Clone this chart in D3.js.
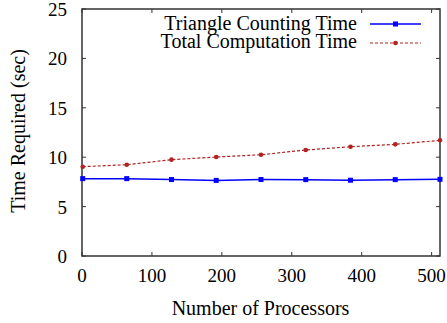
<!DOCTYPE html>
<html><head><meta charset="utf-8">
<script src="https://cdn.jsdelivr.net/npm/d3@7"></script>
</head><body style="margin:0;background:#fff">
<script>
const processors = [1, 64, 128, 192, 256, 320, 384, 448, 512];
const triangleTime = [7.83, 7.83, 7.74, 7.65, 7.74, 7.73, 7.67, 7.73, 7.76];
const totalTime = [9.04, 9.24, 9.75, 10.02, 10.25, 10.73, 11.06, 11.30, 11.71];
const xTicks = [0, 100, 200, 300, 400, 500];
const yTicks = [0, 5, 10, 15, 20, 25];
const seriesNames = ["Triangle Counting Time", "Total Computation Time"];

const W = 447, H = 323;
const m = {l: 82, r: 7, t: 9, b: 67};
const svg = d3.select("body").append("svg").attr("width", W).attr("height", H).style("display", "block");
const txt = (sel, fs) => sel.append("text").style("font-family", '"Liberation Serif", "Times New Roman", serif').attr("font-size", fs).attr("fill", "#000");
const x = d3.scaleLinear().domain([0, 512]).range([m.l, W - m.r]);
const y = d3.scaleLinear().domain([0, 25]).range([H - m.b, m.t]);
const axCol = "#333";

const g = svg.append("g");
const tl = 4;
xTicks.forEach(t => {
  g.append("line").attr("x1", x(t)).attr("x2", x(t)).attr("y1", y(0)).attr("y2", y(0) - tl).attr("stroke", axCol);
  g.append("line").attr("x1", x(t)).attr("x2", x(t)).attr("y1", y(25)).attr("y2", y(25) + tl).attr("stroke", axCol);
  txt(g, 19).attr("x", x(t)).attr("y", y(0) + 26).attr("text-anchor", "middle").text(t);
});
yTicks.forEach(t => {
  g.append("line").attr("x1", x(0)).attr("x2", x(0) + tl).attr("y1", y(t)).attr("y2", y(t)).attr("stroke", axCol);
  g.append("line").attr("x1", x(512)).attr("x2", x(512) - tl).attr("y1", y(t)).attr("y2", y(t)).attr("stroke", axCol);
  txt(g, 19).attr("x", 67).attr("y", y(t) + 7).attr("text-anchor", "end").text(t);
});
g.append("rect").attr("x", x(0)).attr("y", y(25)).attr("width", x(512) - x(0)).attr("height", y(0) - y(25))
  .attr("fill", "none").attr("stroke", axCol).attr("stroke-width", 1.5);

txt(svg, 20).attr("x", 260.5).attr("y", 315).attr("text-anchor", "middle").text("Number of Processors");
txt(svg, 20).attr("transform", `translate(25,131) rotate(-90)`).attr("text-anchor", "middle").text("Time Required (sec)");

const line = d3.line().x(d => x(d[0])).y(d => y(d[1]));
const blue = "#0000ff", red = "#b22222";
const d1 = processors.map((p, i) => [p, triangleTime[i]]);
const d2 = processors.map((p, i) => [p, totalTime[i]]);

svg.append("path").datum(d2).attr("d", line).attr("fill", "none").attr("stroke", red).attr("stroke-width", 1.2).attr("stroke-dasharray", "3,2");
svg.selectAll(".c").data(d2).enter().append("circle").attr("cx", d => x(d[0])).attr("cy", d => y(d[1])).attr("r", 2.3).attr("fill", red);
svg.append("path").datum(d1).attr("d", line).attr("fill", "none").attr("stroke", blue).attr("stroke-width", 1.5);
svg.selectAll(".s").data(d1).enter().append("rect").attr("x", d => x(d[0]) - 2.5).attr("y", d => y(d[1]) - 2.5).attr("width", 5).attr("height", 5).attr("fill", blue);

const ly = [24, 43], tb = [30, 48];
seriesNames.forEach((n, i) => {
  txt(svg, 20).attr("x", 357).attr("y", tb[i]).attr("text-anchor", "end").text(n);
  const col = i === 0 ? blue : red;
  const ln = svg.append("line").attr("x1", 370).attr("x2", 421).attr("y1", ly[i]).attr("y2", ly[i]).attr("stroke", col).attr("stroke-width", i === 0 ? 1.5 : 1.2);
  if (i === 1) { ln.attr("stroke-dasharray", "3,2"); svg.append("circle").attr("cx", 395.5).attr("cy", ly[i]).attr("r", 2.3).attr("fill", col); }
  else svg.append("rect").attr("x", 393).attr("y", ly[i] - 2.5).attr("width", 5).attr("height", 5).attr("fill", col);
});
</script>
</body></html>
